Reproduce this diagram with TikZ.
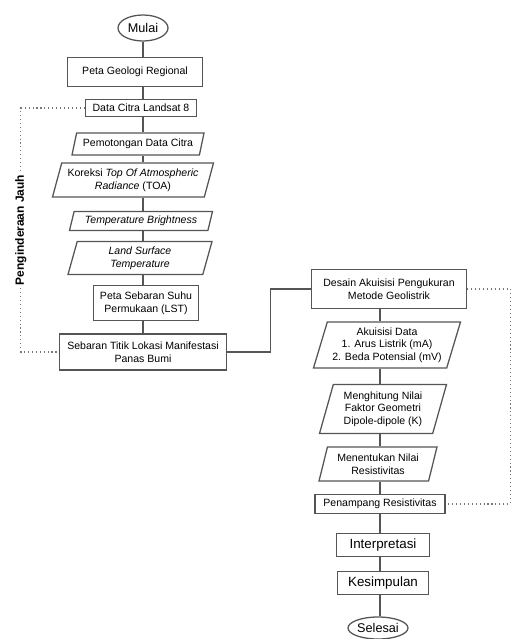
\documentclass[tikz,border=0pt]{standalone}
\usepackage{fontspec}
\setmainfont{Liberation Sans}
\usetikzlibrary{positioning,shapes.geometric,backgrounds}
\definecolor{GarisAbu}{RGB}{85,85,85}
\tikzset{
    prosesbox/.style={rectangle, draw=GarisAbu, line width=0.9pt, fill=white, align=center, inner sep=1pt, font=\fontsize{7.5}{9}\selectfont},
    databox/.style={trapezium, trapezium left angle=70, trapezium right angle=110, trapezium stretches body, draw=GarisAbu, line width=0.9pt, fill=white, align=center, inner sep=1pt, font=\fontsize{7.5}{9}\selectfont},
    terminal/.style={ellipse, draw=GarisAbu, line width=0.9pt, fill=white, inner sep=0pt, font=\fontsize{9}{10}\selectfont}
}

\begin{document}
\begin{tikzpicture}[
        x=0.025cm, y=-0.025cm,
        % Style untuk garis penghubung
        garis/.style={draw=GarisAbu, line width=0.9pt},
        garistitik/.style={draw=GarisAbu!80, line width=0.8pt, dotted},
        % Style untuk label samping
        labelsamping/.style={rotate=90, fill=white, inner sep=1pt, font=\fontsize{8.5}{10}\selectfont\bfseries}
    ]
    \useasboundingbox (0,0) rectangle (517,639);

        % --- KOLOM KIRI ---
        \node[terminal, minimum width=50*0.025cm, minimum height=26*0.025cm] (mulai) at (143,28) {Mulai};
        \node[prosesbox, minimum width=135*0.025cm, minimum height=29*0.025cm] (peta) at (135,72) {Peta Geologi Regional};
        \node[prosesbox, minimum width=111*0.025cm, minimum height=17*0.025cm] (citra) at (141,108) {Data Citra Landsat 8};
        \node[databox, minimum width=132*0.025cm, minimum height=22*0.025cm] (potong) at (138,144) {Pemotongan Data Citra};
        \node[databox, minimum width=161*0.025cm, minimum height=34*0.025cm] (koreksi) at (133,180) {Koreksi \textit{Top Of Atmospheric}\\\textit{Radiance} (TOA)};
        \node[databox, minimum width=143*0.025cm, minimum height=19*0.025cm] (tb) at (141,221) {\textit{Temperature Brightness}};
        \node[databox, minimum width=144*0.025cm, minimum height=33*0.025cm] (lst) at (140,258) {\textit{Land Surface}\\\textit{Temperature}};
        \node[prosesbox, minimum width=105*0.025cm, minimum height=35*0.025cm] (sebaransuhu) at (146,303) {Peta Sebaran Suhu\\Permukaan (LST)};
        \node[prosesbox, minimum width=167*0.025cm, minimum height=36*0.025cm] (sebaran) at (143,352) {Sebaran Titik Lokasi Manifestasi\\Panas Bumi};

        % --- KOLOM KANAN ---
        \node[prosesbox, minimum width=155*0.025cm, minimum height=39*0.025cm] (desain) at (389,289) {Desain Akuisisi Pengukuran\\Metode Geolistrik};
        \node[databox, minimum width=147*0.025cm, minimum height=46*0.025cm] (akuisisi) at (387,345) {Akuisisi Data\\1. Arus Listrik (mA)\\2. Beda Potensial (mV)};
        \node[databox, minimum width=127*0.025cm, minimum height=49*0.025cm] (hitung) at (383,409) {Menghitung Nilai\\Faktor Geometri\\Dipole-dipole (K)};
        \node[databox, minimum width=118*0.025cm, minimum height=34*0.025cm] (tentukan) at (378,464) {Menentukan Nilai\\Resistivitas};
        \node[prosesbox, minimum width=130*0.025cm, minimum height=19*0.025cm] (penampang) at (380,504) {Penampang Resistivitas};
        \node[prosesbox, minimum width=93*0.025cm, minimum height=23*0.025cm, font=\fontsize{9.5}{11}\selectfont] (interpretasi) at (383,545) {Interpretasi};
        \node[prosesbox, minimum width=91*0.025cm, minimum height=23*0.025cm, font=\fontsize{9.5}{11}\selectfont] (kesimpulan) at (383,583) {Kesimpulan};
        \node[terminal, minimum width=60*0.025cm, minimum height=22*0.025cm] (selesai) at (378,628) {Selesai};

        % --- GARIS PENGHUBUNG ---
        \begin{scope}[on background layer]
            \foreach \a/\b in {mulai/peta, peta/citra, citra/potong, potong/koreksi, koreksi/tb, tb/lst, lst/sebaransuhu, sebaransuhu/sebaran}
                \draw[garis] (mulai |- \a.south) -- (mulai |- \b.north);
            \foreach \a/\b in {desain/akuisisi, akuisisi/hitung, hitung/tentukan, tentukan/penampang, penampang/interpretasi, interpretasi/kesimpulan, kesimpulan/selesai}
                \draw[garis] (penampang |- \a.south) -- (penampang |- \b.north);
        \end{scope}
        \draw[garis] (sebaran.east) -- ++(43,0) |- (desain.west);

        % --- GARIS TITIK ---
        \draw[garistitik] (citra.west) -- ++(-64,0) coordinate (kiriatas) |- (sebaran.west);
        \node[labelsamping] (jauh) at (kiriatas |- 0,230) {Penginderaan Jauh};
        \draw[garistitik] (desain.east) -- ++(43,0) |- (penampang.east);

    \end{tikzpicture}
\end{document}
